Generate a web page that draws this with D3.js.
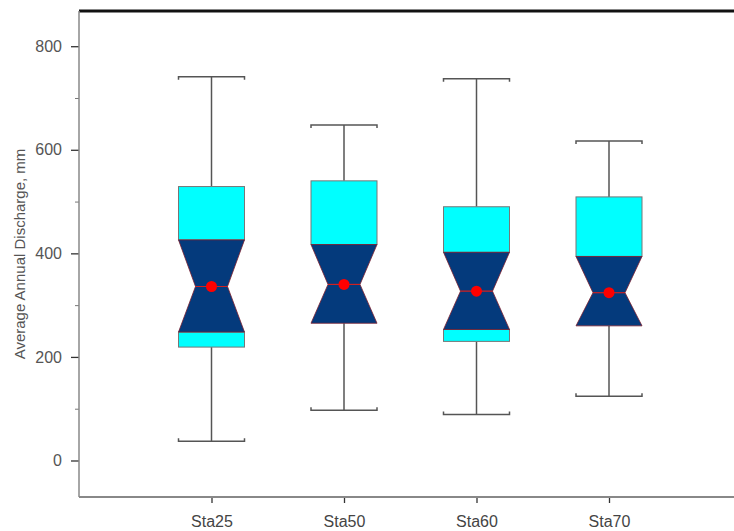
<!DOCTYPE html>
<html>
<head>
<meta charset="utf-8">
<script src="https://cdn.jsdelivr.net/npm/d3@7"></script>
<style>
  body { margin: 0; background: #fff; }
  text { font-family: "Liberation Sans", Arial, sans-serif; }
</style>
</head>
<body>
<div id="chart"></div>
<script>
// data cteni z obrazku
const stations = ["Sta25", "Sta50", "Sta60", "Sta70"];
const minVals = [37, 97, 89, 124];
const q1Vals = [219, 265, 230, 260];
const notchLow = [248, 265, 253, 260];
const medians = [336, 340, 327, 324];
const notchHigh = [426, 417, 402, 394];
const q3Vals = [529, 540, 490, 509];
const maxVals = [741, 648, 737, 617];
const majorTicks = [0, 200, 400, 600, 800];
const minorTicks = [100, 300, 500, 700];

const width = 734, height = 531;
const plotLeft = 79, plotTop = 11, plotBottom = 497, plotRight = 741.5;

const svg = d3.select("#chart").append("svg")
    .attr("width", width).attr("height", height);

const x = d3.scalePoint().domain(stations).range([plotLeft, plotRight]).padding(1);
const y = d3.scaleLinear().domain([-70.5, 868]).range([plotBottom, plotTop]);

const halfBox = 33;
const halfNotch = 16;

// osa y
svg.append("g")
    .attr("transform", `translate(${plotLeft},0)`)
    .call(d3.axisLeft(y).tickValues(majorTicks).tickSize(8).tickPadding(9))
    .call(g => g.select(".domain").remove())
    .call(g => g.selectAll("line").attr("stroke", "#333").attr("stroke-width", 1.3))
    .call(g => g.selectAll("text").attr("fill", "#555").style("font-size", "16px"));

svg.append("g")
    .attr("transform", `translate(${plotLeft},0)`)
    .call(d3.axisLeft(y).tickValues(minorTicks).tickSize(4).tickFormat(""))
    .call(g => g.select(".domain").remove())
    .call(g => g.selectAll("line").attr("stroke", "#777"));

// osa x
svg.append("g")
    .attr("transform", `translate(0,${plotBottom})`)
    .call(d3.axisBottom(x).tickSize(6).tickPadding(13))
    .call(g => g.select(".domain").remove())
    .call(g => g.selectAll("line").attr("stroke", "#333").attr("stroke-width", 1.3))
    .call(g => g.selectAll("text").attr("fill", "#444").style("font-size", "16px"));

// ramecek
svg.append("line").attr("x1", plotLeft).attr("x2", width).attr("y1", plotTop).attr("y2", plotTop)
    .attr("stroke", "#111").attr("stroke-width", 3);
svg.append("line").attr("x1", plotLeft).attr("x2", plotLeft).attr("y1", plotTop).attr("y2", plotBottom)
    .attr("stroke", "#888").attr("stroke-width", 1.5);
svg.append("line").attr("x1", plotLeft).attr("x2", width).attr("y1", plotBottom).attr("y2", plotBottom)
    .attr("stroke", "#888").attr("stroke-width", 2);

svg.append("text")
    .attr("transform", `translate(25,${(plotTop + plotBottom) / 2}) rotate(-90)`)
    .attr("text-anchor", "middle")
    .attr("fill", "#555")
    .style("font-size", "15px")
    .text("Average Annual Discharge, mm");

// krabicove grafy
stations.forEach((s, i) => {
    const cx = x(s);
    const g = svg.append("g");

    // vousy
    g.append("line").attr("x1", cx).attr("x2", cx)
        .attr("y1", y(q3Vals[i])).attr("y2", y(maxVals[i]))
        .attr("stroke", "#555").attr("stroke-width", 1.5);
    g.append("line").attr("x1", cx).attr("x2", cx)
        .attr("y1", y(q1Vals[i])).attr("y2", y(minVals[i]))
        .attr("stroke", "#555").attr("stroke-width", 1.5);

    // zakonceni vousu
    [[maxVals[i], 1], [minVals[i], -1]].forEach(([v, dir]) => {
        const yy = y(v);
        g.append("path")
            .attr("d", `M${cx - halfBox},${yy + 3 * dir}V${yy}H${cx + halfBox}V${yy + 3 * dir}`)
            .attr("fill", "none").attr("stroke", "#555").attr("stroke-width", 1.5);
    });

    // cyan casti krabice (nad a pod zarezem)
    [[q3Vals[i], notchHigh[i]], [notchLow[i], q1Vals[i]]].forEach(([hi, lo]) => {
        if (hi <= lo) return;
        g.append("rect")
            .attr("x", cx - halfBox).attr("width", 2 * halfBox)
            .attr("y", y(hi)).attr("height", y(lo) - y(hi))
            .attr("fill", "#00ffff").attr("stroke", "#777").attr("stroke-width", 1);
    });

    // tmave modry zarez
    const pts = [
        [cx - halfBox, y(notchHigh[i])],
        [cx + halfBox, y(notchHigh[i])],
        [cx + halfNotch, y(medians[i])],
        [cx + halfBox, y(notchLow[i])],
        [cx - halfBox, y(notchLow[i])],
        [cx - halfNotch, y(medians[i])]
    ];
    g.append("path")
        .attr("d", d3.line()(pts) + "Z")
        .attr("fill", "#043a7c").attr("stroke", "#7a2030").attr("stroke-width", 0.8);

    // median
    g.append("line")
        .attr("x1", cx - halfNotch).attr("x2", cx + halfNotch)
        .attr("y1", y(medians[i])).attr("y2", y(medians[i]))
        .attr("stroke", "#d02020").attr("stroke-width", 1.2);
    g.append("circle")
        .attr("cx", cx).attr("cy", y(medians[i])).attr("r", 5.5)
        .attr("fill", "#ff0000");
});
</script>
</body>
</html>
